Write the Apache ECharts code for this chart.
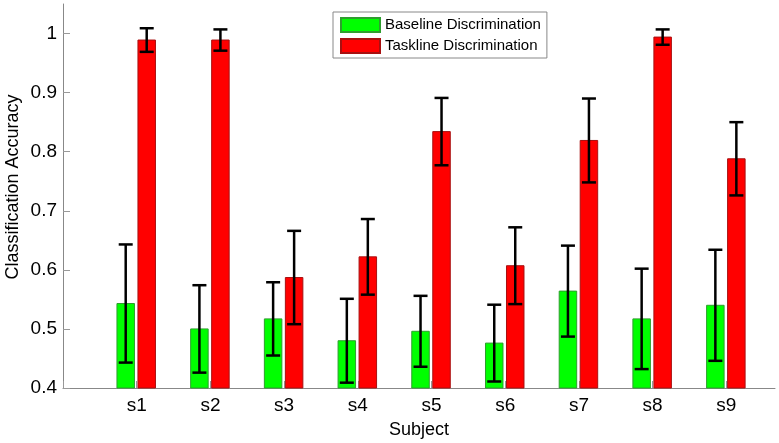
<!DOCTYPE html>
<html>
<head>
<meta charset="utf-8">
<script src="https://cdn.jsdelivr.net/npm/echarts@6/dist/echarts.min.js"></script>
<style>
html,body{margin:0;padding:0;background:#fff;}
#c{width:779px;height:443px;}
</style>
</head>
<body>
<div id="c"></div>
<script>
var categories = ['s1','s2','s3','s4','s5','s6','s7','s8','s9'];
var baseline = [0.543, 0.500, 0.517, 0.480, 0.496, 0.476, 0.564, 0.517, 0.540];
var baselineErr = [0.100, 0.074, 0.062, 0.071, 0.060, 0.065, 0.077, 0.085, 0.094];
var taskline = [0.989, 0.989, 0.587, 0.622, 0.834, 0.607, 0.819, 0.994, 0.788];
var tasklineErr = [0.020, 0.018, 0.079, 0.064, 0.057, 0.065, 0.071, 0.013, 0.062];
var yTicks = [0.4, 0.5, 0.6, 0.7, 0.8, 0.9, 1];

var chart = echarts.init(document.getElementById('c'), null, {renderer:'canvas'});
var FONT = '"Liberation Sans", Arial, sans-serif';
var BAR_W = 17.5, CAP = 7;
var Y_MIN = 0.4, Y_MAX = 1.05;
var GREEN = '#00ff00', GREEN_EDGE = '#2e9e2e', RED = '#ff0000', RED_EDGE = '#a81010';

function barData(vals, errs){ return vals.map(function(v,i){ return [i+1, v, v-errs[i], v+errs[i]]; }); }

function render(offset, fill, edge){
  return function(params, api){
    var x = api.value(0);
    var top = api.coord([x, api.value(1)]);
    var base = api.coord([x, Y_MIN]);
    var lo = api.coord([x, api.value(2)]);
    var hi = api.coord([x, api.value(3)]);
    var cx = top[0] + offset;
    var st = {stroke:'#000', lineWidth:2.5};
    return {type:'group', children:[
      {type:'rect', shape:{x:cx-BAR_W/2, y:top[1], width:BAR_W, height:base[1]-top[1]},
       style:{fill:fill, stroke:edge, lineWidth:1}},
      {type:'line', shape:{x1:cx, y1:lo[1], x2:cx, y2:hi[1]}, style:st, z2:10},
      {type:'line', shape:{x1:cx-CAP, y1:lo[1], x2:cx+CAP, y2:lo[1]}, style:st, z2:10},
      {type:'line', shape:{x1:cx-CAP, y1:hi[1], x2:cx+CAP, y2:hi[1]}, style:st, z2:10}
    ]};
  };
}

var option = {
  animation:false,
  backgroundColor:'#fff',
  grid:{left:63, right:4, top:4, bottom:55, containLabel:false, outerBoundsMode:'none'},
  legend:{
    orient:'vertical', left:333, top:12,
    icon:'rect',
    itemWidth:39, itemHeight:14, itemGap:5,
    padding:[5,6,4,7],
    backgroundColor:'#fff', borderColor:'#888', borderWidth:1,
    textStyle:{fontFamily:FONT, fontSize:15, color:'#000'},
    data:['Baseline Discrimination','Taskline Discrimination']
  },
  xAxis:{
    type:'value', min:0, max:9.66, interval:1,
    name:'Subject', nameLocation:'middle', nameGap:33,
    nameTextStyle:{fontFamily:FONT, fontSize:18, color:'#000'},
    axisLine:{show:true, lineStyle:{color:'#888', width:1}},
    axisTick:{show:true, inside:true, length:7, lineStyle:{color:'#999'}},
    splitLine:{show:false},
    axisLabel:{fontFamily:FONT, fontSize:19, color:'#000', margin:8,
      showMaxLabel:false,
      formatter:function(v){ return categories[v-1] || ''; }}
  },
  yAxis:{
    type:'value', min:Y_MIN, max:Y_MAX, interval:0.1,
    name:'Classification Accuracy', nameLocation:'middle', nameGap:41,
    nameMoveOverlap:false,
    nameTextStyle:{fontFamily:FONT, fontSize:18, color:'#000', padding:[0,0,0,18]},
    axisLine:{show:true, lineStyle:{color:'#888', width:1}},
    axisTick:{show:true, inside:true, length:7, lineStyle:{color:'#999'}},
    splitLine:{show:false},
    axisLabel:{fontFamily:FONT, fontSize:19, color:'#000', margin:6,
      showMaxLabel:false,
      formatter:function(v){
        var r = Math.round(v*10)/10;
        return yTicks.indexOf(r) >= 0 ? String(r) : '';
      }}
  },
  series:[
    {name:'Baseline Discrimination', type:'custom', renderItem:render(-11, GREEN, GREEN_EDGE),
     data:barData(baseline, baselineErr), encode:{x:0, y:[1,2,3]},
     itemStyle:{color:GREEN, borderColor:GREEN_EDGE, borderWidth:1}},
    {name:'Taskline Discrimination', type:'custom', renderItem:render(10, RED, RED_EDGE),
     data:barData(taskline, tasklineErr), encode:{x:0, y:[1,2,3]},
     itemStyle:{color:RED, borderColor:RED_EDGE, borderWidth:1}}
  ]
};
chart.setOption(option);
</script>
</body>
</html>
